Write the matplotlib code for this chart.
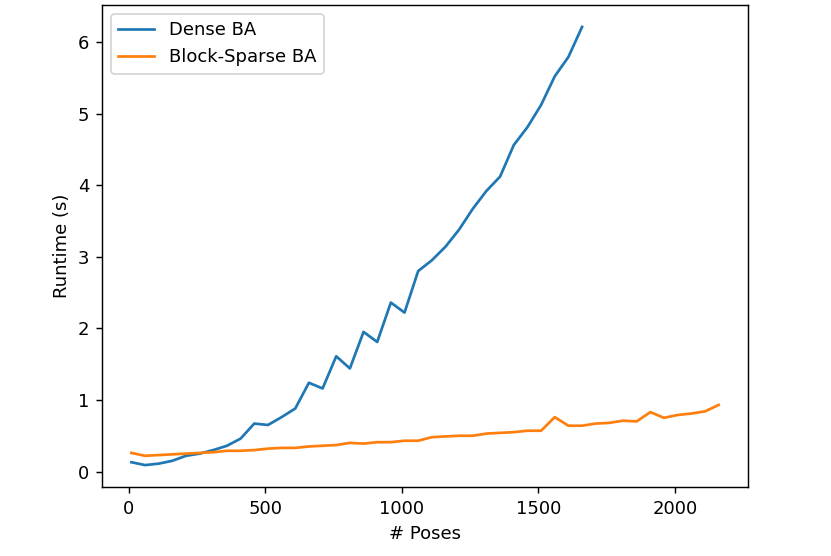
import matplotlib
matplotlib.use("Agg")
import matplotlib.pyplot as plt
import numpy as np

dense_poses = list(range(10, 1661, 50))
dense_runtime = [0.13, 0.09, 0.11, 0.15, 0.22, 0.25, 0.30, 0.36, 0.46, 0.67,
                 0.65, 0.76, 0.88, 1.24, 1.16, 1.61, 1.44, 1.95, 1.81, 2.36,
                 2.22, 2.80, 2.95, 3.14, 3.38, 3.67, 3.92, 4.12, 4.56, 4.81,
                 5.12, 5.52, 5.79, 6.21]

sparse_poses = list(range(10, 2161, 50))
sparse_runtime = [0.26, 0.22, 0.23, 0.24, 0.25, 0.26, 0.27, 0.29, 0.29, 0.30,
                  0.32, 0.33, 0.33, 0.35, 0.36, 0.37, 0.40, 0.39, 0.41, 0.41,
                  0.43, 0.43, 0.48, 0.49, 0.50, 0.50, 0.53, 0.54, 0.55, 0.57,
                  0.57, 0.76, 0.64, 0.64, 0.67, 0.68, 0.71, 0.70, 0.83, 0.75,
                  0.79, 0.81, 0.84, 0.93]

fig = plt.figure(figsize=(831 / 130, 556 / 130), dpi=130)
ax = fig.add_axes([102 / 831, 1 - 487 / 556, 646 / 831, 482 / 556])

ax.plot(dense_poses, dense_runtime, label="Dense BA")
ax.plot(sparse_poses, sparse_runtime, label="Block-Sparse BA")
ax.set_xlabel("# Poses")
ax.set_ylabel("Runtime (s)")
ax.legend(loc="upper left")

fig.savefig("out.png", dpi=130)
